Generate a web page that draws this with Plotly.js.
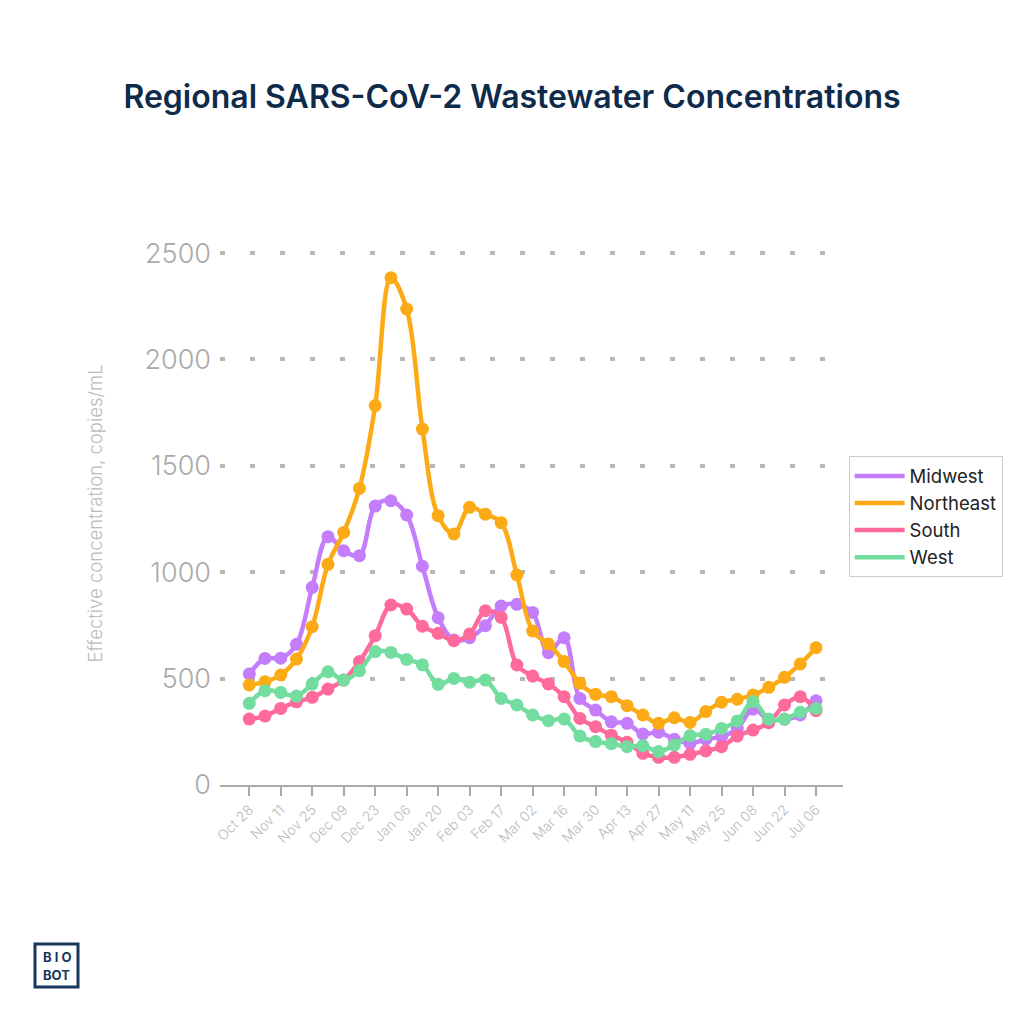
<!DOCTYPE html>
<html>
<head>
<meta charset="utf-8">
<script src="https://cdn.plot.ly/plotly-3.0.1.min.js"></script>
<style>html,body{margin:0;padding:0;background:#fff;}#chart{width:1024px;height:1024px;}</style>
</head>
<body>
<div id="chart"></div>
<script>
// Weekly sample dates (Oct 28, 2023 .. Jul 06, 2024)
const startDate = '2023-10-28';
const weekCount = 37;
const regions = ['Midwest', 'Northeast', 'South', 'West'];
const midwest = [522, 595, 596, 661, 929, 1167, 1101, 1078, 1311, 1336, 1269, 1028, 786, 681, 692, 749, 841, 849, 811, 622, 692, 407, 352, 297, 290, 240, 248, 215, 196, 215, 227, 266, 357, 309, 309, 329, 396];
const northeast = [470, 485, 517, 592, 744, 1037, 1187, 1394, 1783, 2384, 2237, 1673, 1266, 1180, 1305, 1273, 1233, 987, 724, 663, 580, 478, 426, 415, 373, 329, 290, 316, 294, 345, 389, 403, 423, 459, 506, 569, 645];
const south = [310, 324, 360, 391, 412, 451, 493, 580, 702, 846, 827, 746, 713, 678, 710, 819, 788, 564, 512, 475, 415, 313, 274, 234, 201, 149, 130, 130, 144, 160, 180, 230, 258, 293, 376, 415, 350];
const west = [384, 443, 435, 418, 475, 532, 493, 537, 627, 623, 590, 565, 473, 501, 483, 493, 407, 376, 329, 302, 310, 230, 204, 194, 180, 185, 157, 188, 232, 238, 266, 301, 392, 309, 310, 342, 360];
const colors = ['#c47dfb', '#fcab16', '#fe6a9c', '#72dd9e'];

function dateList(start, n) {
  const out = [];
  const d0 = new Date(start + 'T00:00:00Z');
  for (let i = 0; i < n; i++) {
    const d = new Date(d0.getTime() + i * 7 * 86400000);
    out.push(d.toISOString().slice(0, 10));
  }
  return out;
}
const dates = dateList(startDate, weekCount);
const series = [midwest, northeast, south, west];

const traces = [];
series.forEach((vals, i) => {
  traces.push({
    x: dates, y: vals, type: 'scatter', mode: 'lines', name: regions[i],
    legendgroup: regions[i], line: {color: colors[i], width: 4.5, shape: 'spline', smoothing: 1},
    hoverinfo: 'skip'
  });
  traces.push({
    x: dates, y: vals, type: 'scatter', mode: 'markers', name: regions[i],
    legendgroup: regions[i], showlegend: false,
    marker: {color: colors[i], size: 13}
  });
});

const layout = {
  width: 1024, height: 1024,
  paper_bgcolor: '#ffffff', plot_bgcolor: '#ffffff',
  margin: {l: 220, r: 181, t: 242, b: 239},
  font: {family: 'Inter, "Open Sans", sans-serif', color: '#aaaaaa'},
  title: {
    text: 'Regional SARS-CoV-2 Wastewater Concentrations',
    font: {family: 'Inter, "Open Sans", sans-serif', size: 32, weight: 600, color: '#0f2b4c'},
    x: 0.5, xanchor: 'center', y: 0.905, yanchor: 'middle'
  },
  xaxis: {
    type: 'date',
    range: ['2023-10-15', '2024-07-18'],
    tick0: startDate, dtick: 14 * 86400000, tickformat: '%b %d',
    tickangle: -45, tickfont: {size: 14, color: '#bbbbbb', weight: 300},
    ticks: 'outside', ticklen: 9, tickwidth: 2, tickcolor: '#aaaaaa',
    showline: true, linecolor: '#aaaaaa', linewidth: 2,
    showgrid: false, zeroline: false, fixedrange: true
  },
  yaxis: {
    range: [0, 2552],
    tickvals: [0, 500, 1000, 1500, 2000, 2500],
    tickfont: {size: 27, color: '#aaaaaa', weight: 300},
    ticks: '', ticklabelstandoff: 8,
    showgrid: true, gridcolor: '#b8b8b8', gridwidth: 4, griddash: '5px,25px',
    zeroline: false, showline: false,
    title: {text: 'Effective concentration, copies/mL', font: {size: 18.5, color: '#bbbbbb', weight: 300}, standoff: 36},
    fixedrange: true
  },
  showlegend: true,
  legend: {
    x: 1.009, y: 0.605, xanchor: 'left', yanchor: 'top',
    bordercolor: '#cccccc', borderwidth: 1, bgcolor: '#ffffff',
    font: {size: 18.5, color: '#222222'}, tracegroupgap: 0, itemwidth: 50
  },
  shapes: [{
    type: 'rect', xref: 'paper', yref: 'paper',
    x0: (35 - 220) / 623, x1: (78 - 220) / 623,
    y0: (785 - 944) / 543, y1: (785 - 987) / 543,
    line: {color: '#17375e', width: 3}, fillcolor: 'rgba(0,0,0,0)'
  }],
  annotations: [
    {text: '<b>B I O</b>', xref: 'paper', yref: 'paper', x: (56.5 - 220) / 623, y: (785 - 957) / 543,
     showarrow: false, xanchor: 'center', yanchor: 'middle', font: {size: 13, color: '#17375e', family: 'Inter, sans-serif'}},
    {text: '<b>BOT</b>', xref: 'paper', yref: 'paper', x: (56.5 - 220) / 623, y: (785 - 975) / 543,
     showarrow: false, xanchor: 'center', yanchor: 'middle', font: {size: 13, color: '#17375e', family: 'Inter, sans-serif'}}
  ]
};

Plotly.newPlot('chart', traces, layout, {displayModeBar: false, staticPlot: true});
</script>
</body>
</html>
